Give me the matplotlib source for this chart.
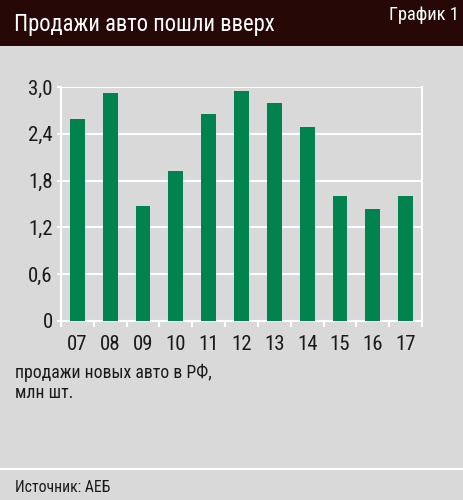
import matplotlib
matplotlib.use("Agg")
import matplotlib.pyplot as plt
from matplotlib.patches import Rectangle
from matplotlib.lines import Line2D

years = ["07", "08", "09", "10", "11", "12", "13", "14", "15", "16", "17"]
sales = [2.59, 2.92, 1.47, 1.92, 2.66, 2.95, 2.79, 2.49, 1.60, 1.43, 1.60]
yticks = [0, 0.6, 1.2, 1.8, 2.4, 3.0]
ytick_labels = ["0", "0,6", "1,2", "1,8", "2,4", "3,0"]

title = "Продажи авто пошли вверх"
chart_no = "График 1"
subtitle = "продажи новых авто в РФ,\nмлн шт."
source = "Источник: АЕБ"

FONT = ["Roboto Condensed", "Liberation Sans Narrow", "Roboto", "DejaVu Sans"]
plt.rcParams["font.family"] = FONT

BG = "#d9d9d9"
HEADER = "#260806"
GREEN = "#00834f"
TXT = "#1a1a1a"

W, H = 463, 500
fig = plt.figure(figsize=(W / 100, H / 100), dpi=100, facecolor=BG)

# header band
fig.patches.append(Rectangle((0, 1 - 46 / H), 1, 46 / H, transform=fig.transFigure,
                             facecolor=HEADER, edgecolor="none", zorder=0))
# footer separator line
fig.lines.append(Line2D([0, 1], [1 - 469 / H, 1 - 469 / H], transform=fig.transFigure,
                        color="white", lw=1.5))

fig.text(14 / W, 1 - 25 / H, title, color="white", fontsize=16.3, va="center", ha="left")
fig.text(459 / W, 1 - 15 / H, chart_no, color="white", fontsize=13.2, va="center", ha="right")

ax = fig.add_axes([61 / W, 1 - 321 / H, 361 / W, 234 / H])
ax.set_facecolor(BG)
x = list(range(len(years)))
ax.bar(x, sales, width=0.45, color=GREEN, zorder=3)
ax.set_xlim(-0.5, len(years) - 0.5)
ax.set_ylim(0, 3.0)
ax.set_yticks(yticks)
ax.set_yticklabels(ytick_labels)
ax.set_xticks(x)
ax.set_xticklabels(years)
ax.set_xticks([i - 0.5 for i in range(len(years) + 1)], minor=True)
ax.yaxis.grid(True, color="white", lw=1.5, zorder=1)
for s in ["left", "right", "bottom"]:
    ax.spines[s].set_color("white")
    ax.spines[s].set_linewidth(1.5)
ax.spines["top"].set_visible(False)
ax.tick_params(axis="y", length=3, color="white", width=1.5, labelsize=15, labelcolor=TXT, pad=3)
ax.tick_params(axis="x", which="major", length=0, labelsize=15, labelcolor=TXT, pad=10)
ax.tick_params(axis="x", which="minor", length=4, color="white", width=1.5)

fig.text(15 / W, 1 - 383 / H, subtitle, color=TXT, fontsize=12.8, va="center", ha="left",
         linespacing=1.15)
fig.text(15 / W, 1 - 487 / H, source, color=TXT, fontsize=11.3, va="center", ha="left")

fig.savefig("out.png", dpi=100, facecolor=BG)
